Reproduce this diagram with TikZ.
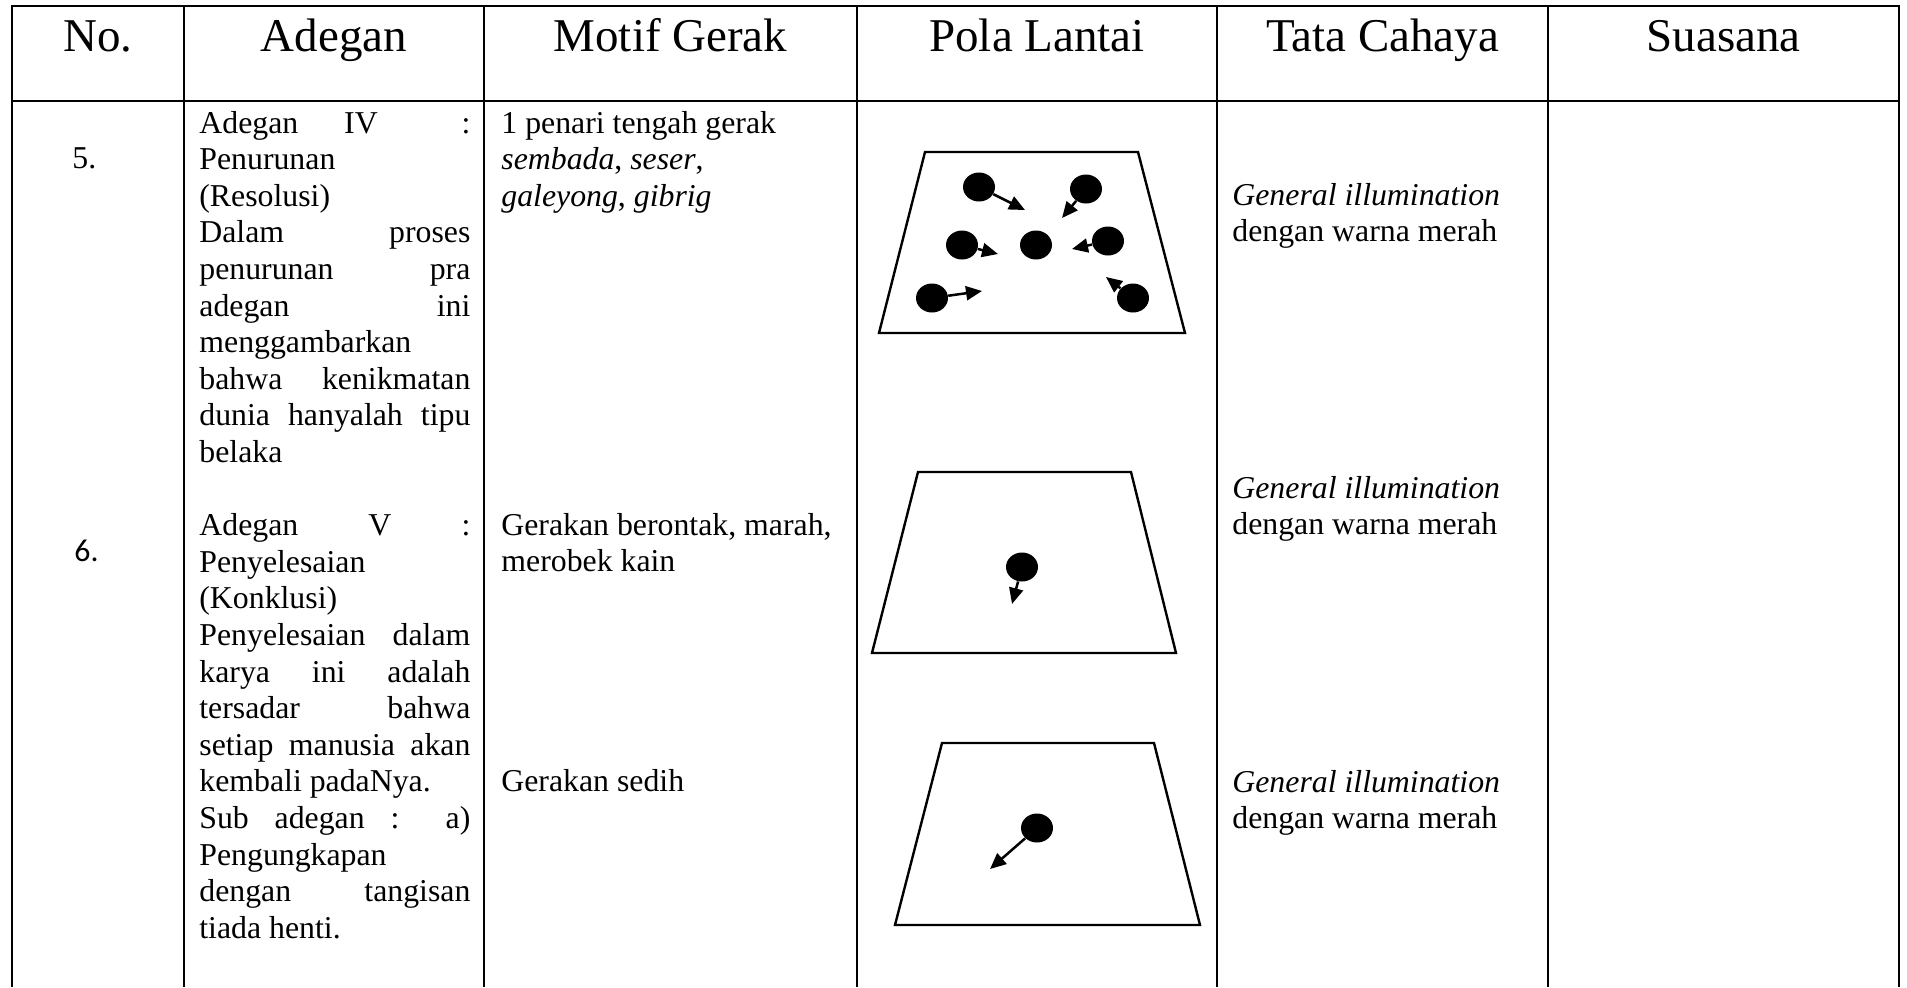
\documentclass[tikz,border=0pt]{standalone}
\usepackage{fontspec}
\setmainfont{Liberation Serif}
\newfontfamily\numfont{Carlito}
\usetikzlibrary{arrows.meta,shapes.geometric}
% a full-width justified line of the "Adegan" column
\newcommand{\jus}[1]{\makebox[135.5pt][s]{#1}}
\begin{document}
\begin{tikzpicture}[x=0.5pt,y=-0.5pt,
  rule/.style={line width=1.35pt},
  floor/.style={line width=1.2pt, line join=miter},
  dancer/.style={ellipse, fill=black, minimum width=16pt, minimum height=14.5pt, inner sep=0pt},
  move/.style={line width=1.25pt, -{Triangle[length=8pt,width=7pt]}},
  head/.style={anchor=base, inner sep=0pt, font=\fontsize{23.5pt}{28pt}\selectfont},
  body/.style={anchor=base west, inner sep=0pt, font=\fontsize{15.9pt}{18.3pt}\selectfont},
]
\useasboundingbox (0,0) rectangle (1907,987);

% table frame (open at the bottom)
\draw[rule, line join=miter] (12,987) -- (12,6) -- (1899,6) -- (1899,987);
\draw[rule] (12,101) -- (1899,101);
\foreach \x in {184,484,857,1217,1548} \draw[rule] (\x,6) -- (\x,987);

% header
\node[head] (hNo)  at (98,51)     {No.};
\node[head] (hAd)  at (334,51)    {Adegan};
\node[head] (hMo)  at (670.5,51)  {Motif Gerak};
\node[head] (hPo)  at (1037,51)   {Pola Lantai};
\node[head] (hTa)  at (1382.5,51) {Tata Cahaya};
\node[head] (hSu)  at (1723.5,51) {Suasana};

% numbers
\node[body] (n5) at (72,168) {5.};
\node[body, font=\numfont\fontsize{15.9pt}{18.3pt}\selectfont] (n6) at (74,561) {6.};

% scenes
\node[body] (adeg) at (199,133) {\begin{tabular}[t]{@{}l@{}}
\makebox[135.5pt][s]{Adegan \hfill IV \hfill\hfill :}\\
Penurunan\\
(Resolusi)\\
\jus{Dalam proses}\\
\jus{penurunan pra}\\
\jus{adegan ini}\\
menggambarkan\\
\jus{bahwa kenikmatan}\\
\jus{dunia hanyalah tipu}\\
belaka\\
\\
\jus{Adegan V :}\\
Penyelesaian\\
(Konklusi)\\
\jus{Penyelesaian dalam}\\
\jus{karya ini adalah}\\
\jus{tersadar bahwa}\\
\jus{setiap manusia akan}\\
kembali padaNya.\\
\jus{Sub adegan : a)}\\
Pengungkapan\\
\jus{dengan tangisan}\\
tiada henti.
\end{tabular}};

% movement motifs
\node[body] (m1) at (501,133) {\begin{tabular}[t]{@{}l@{}}
1 penari tengah gerak\\
\textit{sembada}, \textit{seser},\\
\textit{galeyong}, \textit{gibrig}
\end{tabular}};
\node[body] (m2) at (501,535) {\begin{tabular}[t]{@{}l@{}}
Gerakan berontak, marah,\\
merobek kain
\end{tabular}};
\node[body] (m3) at (501,791) {Gerakan sedih};

% lighting
\node[body] (l1) at (1232,205) {\begin{tabular}[t]{@{}l@{}}
\textit{General illumination}\\ dengan warna merah\end{tabular}};
\node[body] (l2) at (1232,498) {\begin{tabular}[t]{@{}l@{}}
\textit{General illumination}\\ dengan warna merah\end{tabular}};
\node[body] (l3) at (1232,792) {\begin{tabular}[t]{@{}l@{}}
\textit{General illumination}\\ dengan warna merah\end{tabular}};

% floor pattern 1: six dancers moving towards the centre
\draw[floor] (925,152) -- (1138,152) -- (1185,333) -- (879,333) -- cycle;
\node[dancer] (a1) at (979,187) {};
\node[dancer] (a2) at (1086,189) {};
\node[dancer] (a3) at (962,245) {};
\node[dancer] (a4) at (1036,245) {};
\node[dancer] (a5) at (1108,241) {};
\node[dancer] (a6) at (932,298) {};
\node[dancer] (a7) at (1133,298) {};
\coordinate (a1t) at (1025,210);
\coordinate (a2t) at (1062,218);
\coordinate (a3t) at (998,254);
\coordinate (a5t) at (1072,249);
\coordinate (a6t) at (982,291);
\coordinate (a7t) at (1106,277);
\draw[move] (a1) -- (a1t);
\draw[move] (a2) -- (a2t);
\draw[move] (a3) -- (a3t);
\draw[move] (a5) -- (a5t);
\draw[move] (a6) -- (a6t);
\draw[move] (a7) -- (a7t);

% floor pattern 2
\draw[floor] (918,472) -- (1131,472) -- (1176,653) -- (872,653) -- cycle;
\node[dancer] (b1) at (1022,567) {};
\coordinate (b1t) at (1012,604);
\draw[move] (b1) -- (b1t);

% floor pattern 3
\draw[floor] (942,743) -- (1154,743) -- (1200,925) -- (895,925) -- cycle;
\node[dancer] (c1) at (1037,828) {};
\coordinate (c1t) at (990,869);
\draw[move] (c1) -- (c1t);
\end{tikzpicture}
\end{document}
